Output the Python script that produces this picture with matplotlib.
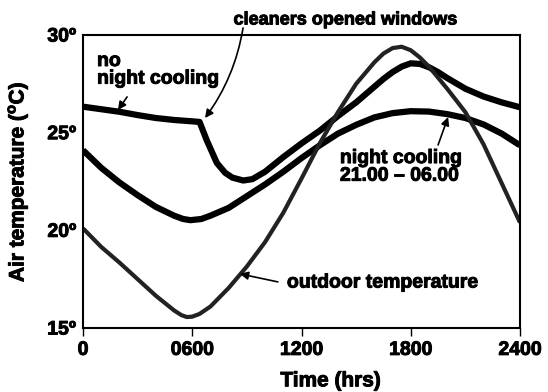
import matplotlib
matplotlib.use('Agg')
import matplotlib.pyplot as plt
import matplotlib.patheffects as pe

# hours of the day and air temperatures (deg C)
hours_no_cooling = [0, 1, 2, 3, 4, 5, 6, 6.4, 6.8, 7.35, 7.8, 8.2, 8.8, 9.3,
                    10, 11, 12, 13, 14, 15, 16, 16.5, 17, 17.5, 18, 18.5, 19,
                    19.5, 20, 21, 22, 23, 24]
temp_no_cooling = [26.33, 26.2, 26.07, 25.9, 25.75, 25.65, 25.58, 25.55, 24.6,
                   23.45, 22.95, 22.7, 22.55, 22.62, 23.0, 23.75, 24.45, 25.1,
                   25.85, 26.55, 27.35, 27.75, 28.1, 28.38, 28.55, 28.52, 28.35,
                   28.1, 27.8, 27.25, 26.85, 26.55, 26.3]

hours_night_cooling = [0, 1, 2, 3, 4, 5, 5.5, 5.9, 6.5, 7, 8, 9, 10, 11, 12,
                       13, 14, 15, 16, 17, 18, 19, 20, 21, 22, 23, 24]
temp_night_cooling = [24.1, 23.2, 22.45, 21.8, 21.2, 20.75, 20.58, 20.52,
                      20.58, 20.75, 21.15, 21.75, 22.35, 23.0, 23.7, 24.35,
                      24.95, 25.4, 25.78, 26.0, 26.1, 26.08, 25.95, 25.75,
                      25.42, 24.95, 24.35]

hours_outdoor = [0, 1, 2, 3, 4, 5, 5.4, 5.7, 6.0, 6.4, 7, 8, 9, 10, 11, 12,
                 13, 14, 15, 16, 16.5, 17, 17.5, 18, 18.5, 19, 20, 21, 22, 23,
                 24]
temp_outdoor = [20.1, 19.15, 18.35, 17.5, 16.65, 15.9, 15.66, 15.56, 15.58,
                15.72, 16.1, 17.05, 18.15, 19.4, 20.9, 22.65, 24.45, 26.05,
                27.5, 28.6, 29.05, 29.33, 29.4, 29.22, 28.85, 28.38, 27.25,
                26.05, 24.4, 22.4, 20.4]

x_ticks = [0, 6, 12, 18, 24]
x_tick_labels = ['0', '0600', '1200', '1800', '2400']
y_ticks = [15, 20, 25, 30]
y_tick_labels = ['15º', '20º', '25º', '30º']

plt.rcParams['font.family'] = ['Liberation Sans', 'DejaVu Sans']
plt.rcParams['font.weight'] = 'bold'
plt.rcParams['mathtext.fontset'] = 'custom'
plt.rcParams['mathtext.rm'] = 'Liberation Sans:bold'
plt.rcParams['mathtext.bf'] = 'Liberation Sans:bold'

# slightly heavier lettering
heavy = [pe.withStroke(linewidth=0.7, foreground='black')]


def main():
    fig = plt.figure(figsize=(5.48, 3.92), dpi=100)
    ax = fig.add_axes([0.1515, 0.1633, 0.7974, 0.7474])

    ax.plot(hours_no_cooling, temp_no_cooling, color='black', lw=4.5,
            solid_joinstyle='round', solid_capstyle='butt')
    ax.plot(hours_night_cooling, temp_night_cooling, color='black', lw=4.5,
            solid_joinstyle='round', solid_capstyle='butt')
    ax.plot(hours_outdoor, temp_outdoor, color='#222222', lw=3,
            solid_joinstyle='round', solid_capstyle='butt')

    ax.set_xlim(0, 24)
    ax.set_ylim(15, 30)
    ax.set_xticks(x_ticks)
    ax.set_xticklabels(x_tick_labels)
    ax.set_yticks(y_ticks)
    ax.set_yticklabels(y_tick_labels)
    ax.tick_params(axis='x', direction='out', length=6, width=1, pad=4,
                   labelsize=14)
    ax.tick_params(axis='y', length=0, pad=5, labelsize=14)
    for lbl in ax.get_xticklabels() + ax.get_yticklabels():
        lbl.set_path_effects(heavy)
    for s in ax.spines.values():
        s.set_linewidth(1.5)

    ax.set_xlabel('Time (hrs)', fontsize=15, fontweight='bold',
                  path_effects=heavy)
    ax.xaxis.set_label_coords(0.567, -0.148)
    ax.set_ylabel(r'Air temperature ($^{\mathbf{o}}$C)', fontsize=15,
                  fontweight='bold', path_effects=heavy)
    ax.yaxis.set_label_coords(-0.122, 0.5)

    arrow = dict(arrowstyle='-|>', color='black', lw=1.2, mutation_scale=12,
                 shrinkA=0, shrinkB=0)
    txt = dict(fontsize=14, fontweight='bold', path_effects=heavy)

    ax.text(0.77, 29.08, 'no\nnight cooling', ha='left', va='top',
            linespacing=1.05, **txt)
    ax.annotate('', xy=(1.92, 26.16), xytext=(2.42, 26.83),
                arrowprops=arrow)

    ax.annotate('cleaners opened windows', xy=(6.7, 25.75),
                xytext=(14.39, 30.77), ha='center', va='center',
                fontsize=13, fontweight='bold', path_effects=heavy,
                annotation_clip=False)
    ax.annotate('', xy=(6.7, 25.75), xytext=(8.79, 30.36),
                arrowprops=dict(arrow, connectionstyle='arc3,rad=-0.12'),
                annotation_clip=False)

    ax.text(14.11, 24.11, 'night cooling\n21.00 – 06.00', ha='left',
            va='top', linespacing=1.05, **txt)
    ax.annotate('', xy=(20.05, 25.8), xytext=(19.5, 24.37),
                arrowprops=arrow)

    ax.text(11.2, 17.3, 'outdoor temperature', ha='left', va='center', **txt)
    ax.annotate('', xy=(8.62, 17.77), xytext=(10.7, 17.36),
                arrowprops=arrow)

    fig.savefig('out.png', dpi=100)


if __name__ == '__main__':
    main()
